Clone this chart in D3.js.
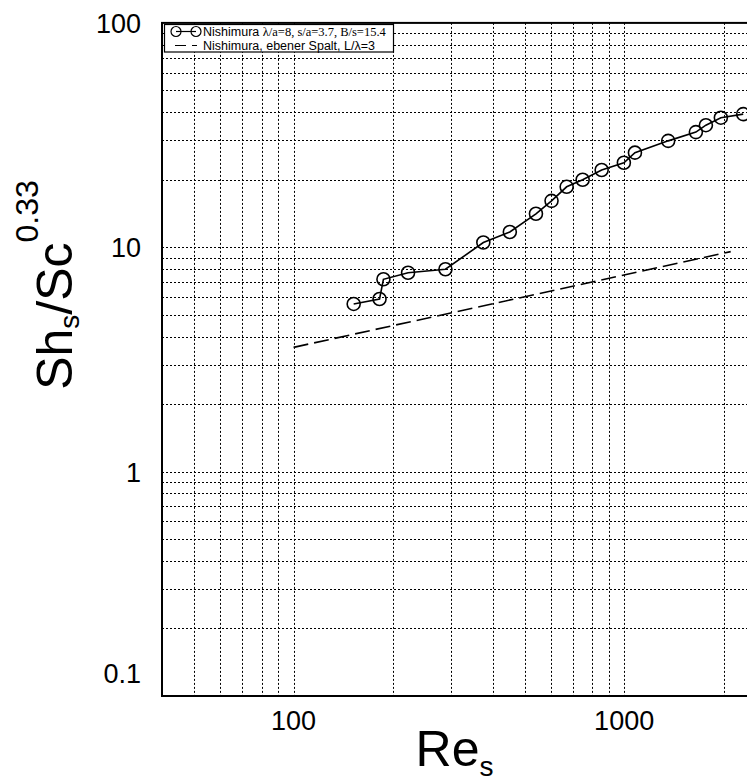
<!DOCTYPE html>
<html>
<head>
<meta charset="utf-8">
<script src="https://cdn.jsdelivr.net/npm/d3@7/dist/d3.min.js"></script>
<style>
  html, body { margin: 0; padding: 0; background: #fff; }
  svg { display: block; }
  text { font-family: "Liberation Sans", Arial, sans-serif; fill: #000; }
</style>
</head>
<body>
<svg id="chart" width="747" height="783"></svg>
<script>
// Nishimura, wavy channel: lambda/a=8, s/a=3.7, B/s=15.4
const reNishimura = [152, 182, 187, 222, 288, 375, 451, 541, 603, 670, 749, 855, 998, 1078, 1359, 1648, 1767, 1961, 2291];
const shNishimura = [5.59, 5.88, 7.20, 7.70, 7.98, 10.5, 11.7, 14.1, 16.1, 18.6, 20.0, 22.1, 23.8, 26.4, 29.8, 32.6, 35.0, 37.8, 39.2];

// Nishimura, plane channel, L/lambda=3
const reSpalt = [100, 2100];
const shSpalt = [3.58, 9.56];

// Axis ticks and labels
const xTickValues = [100, 1000];
const xTickLabels = ["100", "1000"];
const yTickValues = [0.1, 1, 10, 100];
const yTickLabels = ["0.1", "1", "10", "100"];

// Grid positions (log decades)
const xGridValues = [50, 60, 70, 80, 90, 100, 200, 300, 400, 500, 600, 700, 800, 900, 1000, 2000, 3000];
const yGridValues = [0.2, 0.3, 0.4, 0.5, 0.6, 0.7, 0.8, 0.9, 1, 2, 3, 4, 5, 6, 7, 8, 9, 10, 20, 30, 40, 50, 60, 70, 80, 90];

const svg = d3.select("#chart");

const plotLeft = 162, plotTop = 22.9, plotBottom = 696;
const decadeX = 330.6;
const xMax = 3000;

const x = d3.scaleLog().domain([40, xMax]).range([plotLeft, plotLeft + decadeX * Math.log10(xMax / 40)]);
const y = d3.scaleLog().domain([0.1, 100]).range([plotBottom, plotTop]);
const plotRight = x(xMax);

// grid
const grid = svg.append("g").attr("stroke", "#000").attr("stroke-width", 1)
  .attr("stroke-dasharray", "2,2").attr("fill", "none");
grid.selectAll("line.v").data(xGridValues).join("line")
  .attr("class", "v")
  .attr("x1", d => Math.round(x(d)) + 0.5).attr("x2", d => Math.round(x(d)) + 0.5)
  .attr("y1", plotTop).attr("y2", plotBottom);
grid.selectAll("line.h").data(yGridValues).join("line")
  .attr("class", "h")
  .attr("y1", d => Math.round(y(d)) + 0.5).attr("y2", d => Math.round(y(d)) + 0.5)
  .attr("x1", plotLeft).attr("x2", plotRight);

// frame
svg.append("rect")
  .attr("x", plotLeft).attr("y", plotTop)
  .attr("width", plotRight - plotLeft).attr("height", plotBottom - plotTop)
  .attr("fill", "none").attr("stroke", "#000").attr("stroke-width", 2);

// tick labels
svg.append("g").selectAll("text").data(xTickValues).join("text")
  .attr("x", d => x(d)).attr("y", 730)
  .attr("text-anchor", "middle")
  .attr("font-size", 27)
  .text((d, i) => xTickLabels[i]);

svg.append("g").selectAll("text").data(yTickValues).join("text")
  .attr("x", 141)
  .attr("y", d => d === 0.1 ? y(d) - 22 : y(d) + 1)
  .attr("text-anchor", "end")
  .attr("dominant-baseline", "central")
  .attr("font-size", 27)
  .text((d, i) => yTickLabels[i]);

// axis titles
const xt = svg.append("text")
  .attr("x", 454.5).attr("y", 766)
  .attr("text-anchor", "middle")
  .attr("font-size", 50);
xt.append("tspan").text("Re");
xt.append("tspan").attr("font-size", 28).attr("dy", 10).text("s");

const yt = svg.append("text")
  .attr("transform", "translate(72,285) rotate(-90)")
  .attr("text-anchor", "middle")
  .attr("font-size", 50);
yt.append("tspan").text("Sh");
yt.append("tspan").attr("font-size", 28).attr("dy", 7).text("s");
yt.append("tspan").attr("dy", -7).text("/Sc");
yt.append("tspan").attr("font-size", 32).attr("dy", -34).text("0.33");

// plane-channel correlation (dashed)
const line = d3.line().x(d => x(d[0])).y(d => y(d[1]));
svg.append("path")
  .datum(reSpalt.map((r, i) => [r, shSpalt[i]]))
  .attr("d", line)
  .attr("fill", "none").attr("stroke", "#000")
  .attr("stroke-width", 1.6).attr("stroke-dasharray", "15,6");

// wavy channel data
const pts = reNishimura.map((r, i) => [r, shNishimura[i]]);
svg.append("path")
  .datum(pts)
  .attr("d", line)
  .attr("fill", "none").attr("stroke", "#000").attr("stroke-width", 1.6);
svg.append("g").selectAll("circle").data(pts).join("circle")
  .attr("cx", d => x(d[0])).attr("cy", d => y(d[1]))
  .attr("r", 6.5)
  .attr("fill", "none").attr("stroke", "#000").attr("stroke-width", 1.6);

// legend
const lg = svg.append("g");
lg.append("rect")
  .attr("x", 164.5).attr("y", 24.5).attr("width", 229).attr("height", 27.5)
  .attr("fill", "#fff").attr("stroke", "#000").attr("stroke-width", 1.2);

const row1 = 31.5, row2 = 45.5;
lg.append("line").attr("x1", 176).attr("x2", 196).attr("y1", row1).attr("y2", row1)
  .attr("stroke", "#000").attr("stroke-width", 1.2);
lg.selectAll("circle").data([176, 196]).join("circle")
  .attr("cx", d => d).attr("cy", row1).attr("r", 5)
  .attr("fill", "none").attr("stroke", "#000").attr("stroke-width", 1.2);
const t1 = lg.append("text").attr("x", 203).attr("y", row1 + 4.5)
  .attr("font-size", 12.5);
t1.append("tspan").text("Nishimura ");
t1.append("tspan").attr("font-family", "'Liberation Serif', 'Times New Roman', serif")
  .text("λ/a=8, s/a=3.7, B/s=15.4");

lg.append("line").attr("x1", 175).attr("x2", 197).attr("y1", row2).attr("y2", row2)
  .attr("stroke", "#000").attr("stroke-width", 1.2).attr("stroke-dasharray", "11,6");
lg.append("text").attr("x", 203).attr("y", row2 + 4.5)
  .attr("font-size", 12.5)
  .text("Nishimura, ebener Spalt, L/λ=3");
</script>
</body>
</html>
